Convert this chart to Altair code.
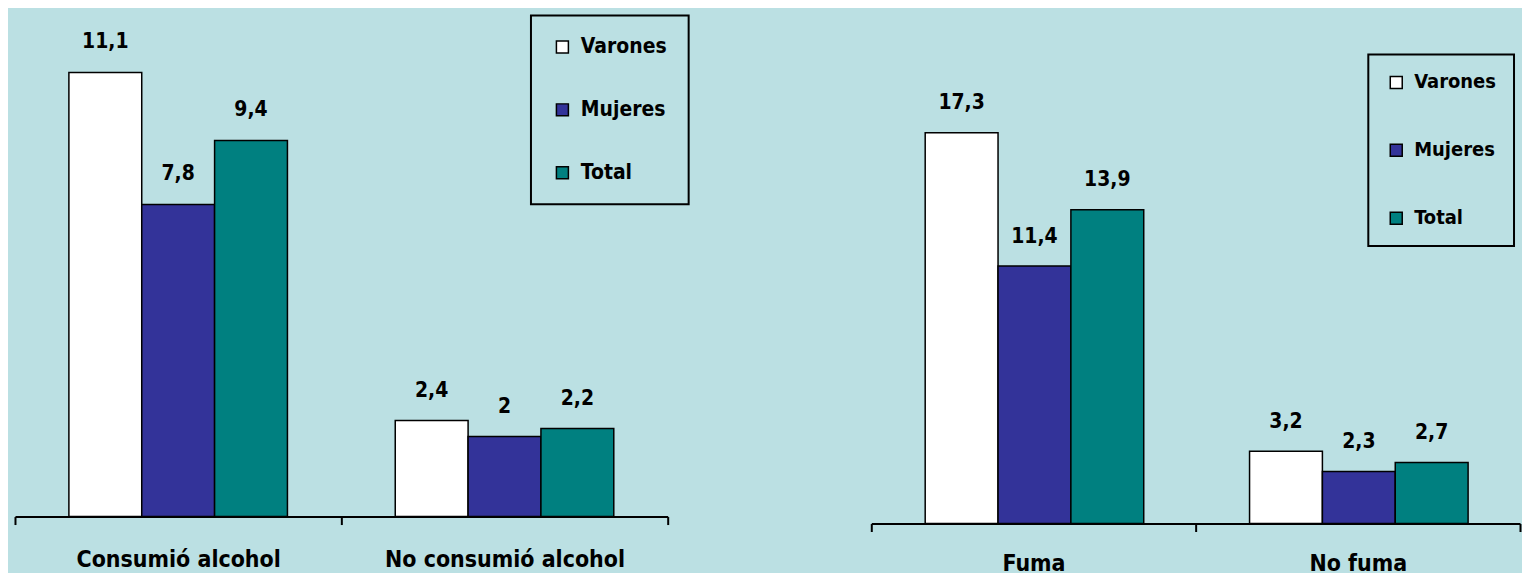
import altair as alt
import pandas as pd

series = ["Varones", "Mujeres", "Total"]
colors = ["#FFFFFF", "#333399", "#008080"]

alc_cats = ["Consumió alcohol", "No consumió alcohol"]
alc_varones = [11.1, 2.4]
alc_mujeres = [7.8, 2.0]
alc_total = [9.4, 2.2]

fum_cats = ["Fuma", "No fuma"]
fum_varones = [17.3, 3.2]
fum_mujeres = [11.4, 2.3]
fum_total = [13.9, 2.7]

FONT = "Liberation Sans Narrow, Arial Narrow, DejaVu Sans Condensed, sans-serif"
BG = "#BBE0E3"


def make_df(cats, v, m, t):
    rows = []
    for i, c in enumerate(cats):
        for s, vals in zip(series, [v, m, t]):
            val = vals[i]
            lab = f"{val:g}".replace(".", ",")
            rows.append({"cat": c, "serie": s, "valor": val, "label": lab})
    return pd.DataFrame(rows)


def panel(df, cats, ymax, width, height, legend_x, legend_y, label_padding, dy,
          leg_font, leg_pad, leg_row):
    base = alt.Chart(df).encode(
        x=alt.X(
            "cat:N",
            sort=cats,
            scale=alt.Scale(paddingInner=0, paddingOuter=0),
            axis=alt.Axis(
                title=None, labelAngle=0, tickBand="extent", tickSize=8, tickWidth=2,
                domainWidth=2, domainColor="black", tickColor="black",
                labelFont=FONT, labelFontSize=23, labelFontWeight="bold",
                labelColor="black", labelBaseline="alphabetic",
                labelPadding=label_padding, labelLimit=400, grid=False,
            ),
        ),
        xOffset=alt.XOffset(
            "serie:N", sort=series, scale=alt.Scale(paddingInner=0, paddingOuter=0.74)
        ),
        y=alt.Y("valor:Q", scale=alt.Scale(domain=[0, ymax], nice=False, zero=True), axis=None),
    )
    bars = base.mark_bar(stroke="black", strokeWidth=1.5).encode(
        color=alt.Color(
            "serie:N",
            sort=series,
            scale=alt.Scale(domain=series, range=colors),
            legend=alt.Legend(
                title=None, orient="none", legendX=legend_x, legendY=legend_y,
                direction="vertical", symbolType="square", symbolSize=144,
                symbolStrokeColor="black", symbolStrokeWidth=1.5,
                labelFont=FONT, labelFontSize=leg_font, labelFontWeight="bold",
                labelColor="black", labelOffset=8, padding=leg_pad, rowPadding=leg_row,
                strokeColor="black",
            ),
        )
    )
    text = base.mark_text(
        baseline="alphabetic", dy=-dy, font=FONT, fontSize=21,
        fontWeight="bold", color="black",
    ).encode(text="label:N")
    return alt.layer(bars, text).properties(width=width, height=height)


left = panel(make_df(alc_cats, alc_varones, alc_mujeres, alc_total),
             alc_cats, 12.67, 654, 508, 517, 6, 42, 24, 21, 21, 41)
right = panel(make_df(fum_cats, fum_varones, fum_mujeres, fum_total),
              fum_cats, 22.76, 650, 515, 498, 45, 39, 23.5, 20, 18, 48)

chart = (
    alt.hconcat(left, right, spacing=204, bounds="flush")
    .resolve_scale(color="independent")
    .properties(background=BG, padding={"left": 5, "top": 0, "right": 0, "bottom": 0})
    .configure_view(stroke="transparent")
    .configure_legend(strokeWidth=2)
)

chart.save("out.html", embed_options={"renderer": "svg", "actions": False})
